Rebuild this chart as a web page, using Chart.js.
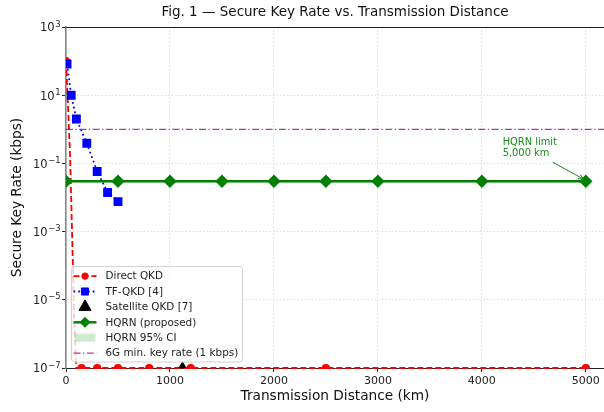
<!DOCTYPE html>
<html>
<head>
<meta charset="utf-8">
<script src="https://cdn.jsdelivr.net/npm/chart.js@4.4.1/dist/chart.umd.min.js"></script>
<style>
  html, body { margin: 0; padding: 0; background: #fff; }
  #wrap { width: 604px; height: 412px; }
</style>
</head>
<body>
<div id="wrap"><canvas id="keyRateChart" width="604" height="412"></canvas></div>
<script>
// values (x in km, rates in kbps)
const directKm   = [0, 20, 40, 60, 80, 100, 150, 300, 500, 800, 1200, 2500, 5000];
const directRate = [100, 4.5, 0.14, 6e-4, 2e-6, 1e-7, 1e-7, 1e-7, 1e-7, 1e-7, 1e-7, 1e-7, 1e-7];
const directMarkedKm = [0, 150, 300, 500, 800, 1200, 2500, 5000];

const tfKm   = [10, 50, 100, 200, 300, 400, 500];
const tfRate = [82, 10, 2.0, 0.39, 0.058, 0.014, 0.0076];

const satKm   = [1120];
const satRate = [1e-7];

const hqrnKm   = [0, 500, 1000, 1500, 2000, 2500, 3000, 4000, 5000];
const hqrnRate = [0.03, 0.03, 0.03, 0.03, 0.03, 0.03, 0.03, 0.03, 0.03];
const hqrnLow  = [0.028, 0.028, 0.028, 0.028, 0.028, 0.028, 0.028, 0.028, 0.028];
const hqrnHigh = [0.032, 0.032, 0.032, 0.032, 0.032, 0.032, 0.032, 0.032, 0.032];

const sixGKm   = [0, 5175];
const sixGRate = [1, 1];

const xTicks = [0, 1000, 2000, 3000, 4000, 5000];
const yTicks = [1e-7, 1e-5, 1e-3, 1e-1, 1e1, 1e3];
const yTickExp = ['\u22127', '\u22125', '\u22123', '\u22121', '1', '3'];

const titleText = 'Fig. 1 \u2014 Secure Key Rate vs. Transmission Distance';
const limitNote = ['HQRN limit', '5,000 km'];

const pts = (xs, ys) => xs.map((x, i) => ({ x: x, y: ys[i] }));
const FONT = "'DejaVu Sans', sans-serif";

function drawMarker(ctx, style, x, y, r, fill, stroke) {
  ctx.save();
  ctx.beginPath();
  if (style === 'circle') {
    ctx.arc(x, y, r, 0, Math.PI * 2);
  } else if (style === 'rect') {
    const s = r * Math.SQRT1_2;
    ctx.rect(x - s, y - s, 2 * s, 2 * s);
  } else if (style === 'rectRot') {
    ctx.moveTo(x, y - r); ctx.lineTo(x + r, y); ctx.lineTo(x, y + r); ctx.lineTo(x - r, y);
    ctx.closePath();
  } else if (style === 'triangle') {
    ctx.moveTo(x, y - r);
    ctx.lineTo(x + r * 0.866, y + r * 0.5);
    ctx.lineTo(x - r * 0.866, y + r * 0.5);
    ctx.closePath();
  }
  ctx.fillStyle = fill;
  ctx.fill();
  ctx.lineWidth = 1;
  ctx.strokeStyle = stroke;
  ctx.stroke();
  ctx.restore();
}

// legend inside the plot, lower left, like matplotlib's loc="lower left"
const insideLegend = {
  id: 'insideLegend',
  afterDatasetsDraw(chart) {
    const ctx = chart.ctx;
    const area = chart.chartArea;
    const items = chart.data.datasets.filter(d => d.legendKind);
    const rowH = 15.4;
    const boxX = area.left + 5.5, boxW = 171;
    const boxH = items.length * rowH + 3;
    const boxY = area.bottom - 6 - boxH;
    ctx.save();
    ctx.beginPath();
    ctx.roundRect(boxX, boxY, boxW, boxH, 3);
    ctx.fillStyle = 'rgba(255,255,255,0.8)';
    ctx.fill();
    ctx.strokeStyle = '#d0d0d0';
    ctx.lineWidth = 1;
    ctx.stroke();
    ctx.font = '10.4px ' + FONT;
    ctx.textBaseline = 'middle';
    items.forEach((d, i) => {
      const y = boxY + 9.5 + i * rowH;
      const x0 = boxX + 2, x1 = boxX + 25, xm = (x0 + x1) / 2;
      if (d.legendKind === 'line') {
        ctx.save();
        ctx.beginPath();
        ctx.setLineDash(d.borderDash || []);
        ctx.lineWidth = d.borderWidth;
        ctx.strokeStyle = d.borderColor;
        ctx.moveTo(x0, y); ctx.lineTo(x1, y);
        ctx.stroke();
        ctx.restore();
      }
      if (d.legendKind === 'band') {
        ctx.fillStyle = d.backgroundColor;
        ctx.fillRect(x0 + 1, y - 4, x1 - x0 - 2, 8);
      }
      if (d.legendRadius) {
        drawMarker(ctx, d.pointStyle, xm, y, d.legendRadius, d.pointBackgroundColor, d.pointBorderColor);
      }
      ctx.fillStyle = '#222';
      ctx.fillText(d.label, boxX + 34, y + 0.5);
    });
    ctx.restore();
  }
};

// title over the axes, top spine, y tick labels with superscripts, annotation arrow
const extras = {
  id: 'extras',
  afterDraw(chart) {
    const ctx = chart.ctx;
    const area = chart.chartArea;
    const xs = chart.scales.x, ys = chart.scales.y;
    ctx.save();
    ctx.fillStyle = '#111';
    ctx.font = '13.5px ' + FONT;
    ctx.textAlign = 'center';
    ctx.textBaseline = 'middle';
    ctx.fillText(titleText, (area.left + area.right) / 2, 12);

    ctx.strokeStyle = '#222';
    ctx.lineWidth = 1;
    ctx.beginPath();
    ctx.moveTo(area.left, area.top + 0.5);
    ctx.lineTo(area.right, area.top + 0.5);
    ctx.stroke();

    ctx.fillStyle = '#222';
    ctx.textBaseline = 'alphabetic';
    ctx.textAlign = 'right';
    yTicks.forEach((t, i) => {
      const py = ys.getPixelForValue(t);
      ctx.font = '8.4px ' + FONT;
      const ew = ctx.measureText(yTickExp[i]).width;
      const right = area.left - 5.5;
      ctx.fillText(yTickExp[i], right, py - 0.5);
      ctx.font = '11.5px ' + FONT;
      ctx.fillText('10', right - ew - 0.5, py + 4.3);
    });
    ctx.textAlign = 'left';

    const tx = xs.getPixelForValue(4200);
    const ty = ys.getPixelForValue(0.42);
    ctx.fillStyle = '#1a8a1a';
    ctx.font = '9.9px ' + FONT;
    ctx.textBaseline = 'middle';
    ctx.fillText(limitNote[0], tx, ty);
    ctx.fillText(limitNote[1], tx, ty + 11);

    const hx = xs.getPixelForValue(hqrnKm[hqrnKm.length - 1]) - 2;
    const hy = ys.getPixelForValue(hqrnRate[hqrnRate.length - 1]) - 2;
    const sx = tx + 50, sy = ty + 20;
    ctx.strokeStyle = '#1a8a1a';
    ctx.lineWidth = 1;
    ctx.beginPath();
    ctx.moveTo(sx, sy); ctx.lineTo(hx, hy);
    ctx.stroke();
    const ang = Math.atan2(hy - sy, hx - sx);
    ctx.beginPath();
    ctx.moveTo(hx - 6 * Math.cos(ang - 0.4), hy - 6 * Math.sin(ang - 0.4));
    ctx.lineTo(hx, hy);
    ctx.lineTo(hx - 6 * Math.cos(ang + 0.4), hy - 6 * Math.sin(ang + 0.4));
    ctx.stroke();
    ctx.restore();
  }
};

const ctx = document.getElementById('keyRateChart').getContext('2d');
const chart = new Chart(ctx, {
  type: 'line',
  data: {
    datasets: [
      {
        label: 'Direct QKD',
        data: pts(directKm, directRate),
        borderColor: '#ff0000',
        borderWidth: 1.8,
        borderDash: [6, 3],
        pointStyle: 'circle',
        pointRadius: c => directMarkedKm.includes(directKm[c.dataIndex]) ? 3.2 : 0,
        legendRadius: 3.2,
        pointBackgroundColor: '#ff0000',
        pointBorderColor: '#ff0000',
        legendKind: 'line',
        clip: { left: 0, top: 0, right: 0, bottom: 1 },
        order: 6
      },
      {
        label: 'TF-QKD [4]',
        data: pts(tfKm, tfRate),
        borderColor: '#0000ff',
        borderWidth: 1.8,
        borderDash: [1.8, 3],
        pointStyle: 'rect',
        pointRadius: 5,
        legendRadius: 5,
        pointBackgroundColor: '#0000ff',
        pointBorderColor: '#0000ff',
        legendKind: 'line',
        order: 5
      },
      {
        label: 'Satellite QKD [7]',
        data: pts(satKm, satRate),
        showLine: false,
        borderColor: '#000',
        borderWidth: 0,
        pointStyle: 'triangle',
        pointRadius: 7,
        legendRadius: 7,
        pointBackgroundColor: '#000',
        pointBorderColor: '#000',
        legendKind: 'marker',
        order: 4
      },
      {
        label: 'HQRN (proposed)',
        data: pts(hqrnKm, hqrnRate),
        borderColor: '#008000',
        borderWidth: 2.4,
        pointStyle: 'rectRot',
        pointRadius: 5,
        legendRadius: 5,
        pointBackgroundColor: '#008000',
        pointBorderColor: '#008000',
        legendKind: 'line',
        order: 3
      },
      {
        label: 'ci-low',
        data: pts(hqrnKm, hqrnLow),
        borderWidth: 0,
        pointRadius: 0,
        fill: false,
        order: 2
      },
      {
        label: 'HQRN 95% CI',
        data: pts(hqrnKm, hqrnHigh),
        borderWidth: 0,
        pointRadius: 0,
        backgroundColor: 'rgba(0,128,0,0.18)',
        fill: '-1',
        legendKind: 'band',
        order: 2
      },
      {
        label: '6G min. key rate (1 kbps)',
        data: pts(sixGKm, sixGRate),
        borderColor: 'rgba(128,0,128,0.75)',
        borderWidth: 1.2,
        borderDash: [7, 2.5, 1.3, 2.5],
        pointRadius: 0,
        legendKind: 'line',
        order: 1
      }
    ]
  },
  options: {
    responsive: false,
    animation: false,
    devicePixelRatio: 1,
    layout: { padding: { top: 27, left: 0, right: 0, bottom: 0 }, autoPadding: false },
    elements: { line: { tension: 0 }, point: { hoverRadius: 0 } },
    plugins: {
      legend: { display: false },
      tooltip: { enabled: false },
      title: { display: false }
    },
    scales: {
      x: {
        type: 'linear',
        min: 0,
        max: 5175,
        afterBuildTicks: s => { s.ticks = xTicks.map(v => ({ value: v })); },
        afterFit: s => { s.height = 44; s.paddingLeft = 0; s.paddingRight = 0; },
        ticks: {
          color: '#222', font: { family: FONT, size: 11 }, padding: 3, maxRotation: 0,
          callback: v => String(v)
        },
        grid: { color: '#dddddd', tickColor: '#222', tickLength: 4, tickBorderDash: [] },
        border: { color: '#222', width: 1, dash: [1.5, 2] },
        title: {
          display: true,
          text: 'Transmission Distance (km)',
          color: '#111',
          font: { family: FONT, size: 13.7 },
          padding: { top: 0, bottom: 6.9 }
        }
      },
      y: {
        type: 'logarithmic',
        min: 1e-7,
        max: 1e3,
        afterBuildTicks: s => { s.ticks = yTicks.map(v => ({ value: v })); },
        afterFit: s => { s.width = 66; s.paddingTop = 0; s.paddingBottom = 0; },
        ticks: { display: false },
        grid: { color: '#dddddd', tickColor: '#222', tickLength: 4, tickBorderDash: [] },
        border: { color: '#888', width: 1.6, dash: [1.5, 2] },
        title: {
          display: true,
          text: 'Secure Key Rate (kbps)',
          color: '#111',
          font: { family: FONT, size: 13.7 },
          padding: { top: 9.4, bottom: 0 }
        }
      }
    }
  },
  plugins: [insideLegend, extras]
});
</script>
</body>
</html>
